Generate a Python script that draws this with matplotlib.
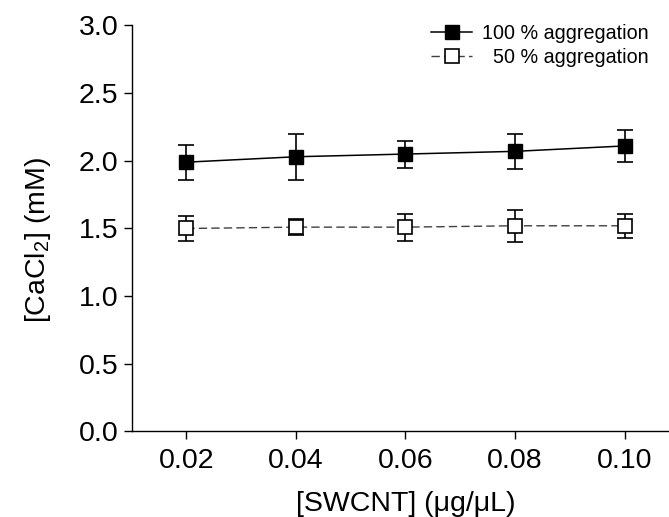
import matplotlib
matplotlib.use('Agg')
import matplotlib.pyplot as plt

plt.rcParams['font.family'] = ['Liberation Sans', 'DejaVu Sans']
plt.rcParams['mathtext.fontset'] = 'custom'
plt.rcParams['mathtext.rm'] = 'Liberation Sans'
plt.rcParams['mathtext.it'] = 'Liberation Sans'

swcnt = [0.02, 0.04, 0.06, 0.08, 0.10]
agg100 = [1.99, 2.03, 2.05, 2.07, 2.11]
agg100_err = [0.13, 0.17, 0.10, 0.13, 0.12]
agg50 = [1.50, 1.51, 1.51, 1.52, 1.52]
agg50_err = [0.09, 0.06, 0.10, 0.12, 0.09]

fig = plt.figure(figsize=(6.69, 5.17), dpi=100, facecolor='white')
ax = fig.add_axes([0.1966, 0.1654, 0.8034, 0.7853])

# error bars first, markers on top
ax.errorbar(swcnt, agg100, yerr=agg100_err, fmt='none', ecolor='black',
            elinewidth=1.2, capsize=5.6, capthick=1.2, zorder=2)
ax.errorbar(swcnt, agg50, yerr=agg50_err, fmt='none', ecolor='black',
            elinewidth=1.2, capsize=5.6, capthick=1.2, zorder=2)

ax.plot(swcnt, agg100, color='black', lw=1.1, marker='s', ms=10.6,
        mfc='black', mec='black', label='100 % aggregation', zorder=3)
ax.plot(swcnt, agg50, color='#404040', lw=1.0, dashes=(6, 3), marker='s', ms=10,
        mfc='white', mec='black', mew=1.2, label='  50 % aggregation', zorder=3)

ax.set_xlim(0.01, 0.1081)
ax.set_ylim(0, 3.0)
ax.set_xticks(swcnt)
ax.set_xticklabels(['0.02', '0.04', '0.06', '0.08', '0.10'])
ax.set_yticks([0.0, 0.5, 1.0, 1.5, 2.0, 2.5, 3.0])
ax.set_yticklabels(['0.0', '0.5', '1.0', '1.5', '2.0', '2.5', '3.0'])
ax.tick_params(direction='out', length=5.8, width=1, labelsize=20.5)
ax.tick_params(axis='y', pad=3.5)
ax.tick_params(axis='x', pad=6)

for s in ['top', 'right']:
    ax.spines[s].set_visible(False)
for s in ['left', 'bottom']:
    ax.spines[s].set_linewidth(1)

ax.set_xlabel('[SWCNT] (μg/μL)', fontsize=20.5)
ax.set_ylabel('[CaCl$_2$] (mM)', fontsize=20.5)
ax.xaxis.set_label_coords((406 - 131.5) / 537.5, -(491 - 431.5) / 406)
ax.yaxis.set_label_coords(-(131.5 - 53) / 537.5, (431.5 - 240) / 406)

ax.legend(loc='upper left', bbox_to_anchor=(431 / 669, 1 - 24 / 517),
          bbox_transform=fig.transFigure, frameon=False, fontsize=14.2,
          handlelength=2.1, handletextpad=0.5, labelspacing=0.25,
          borderpad=0, borderaxespad=0)

fig.savefig('out.png', dpi=100, facecolor='white')
